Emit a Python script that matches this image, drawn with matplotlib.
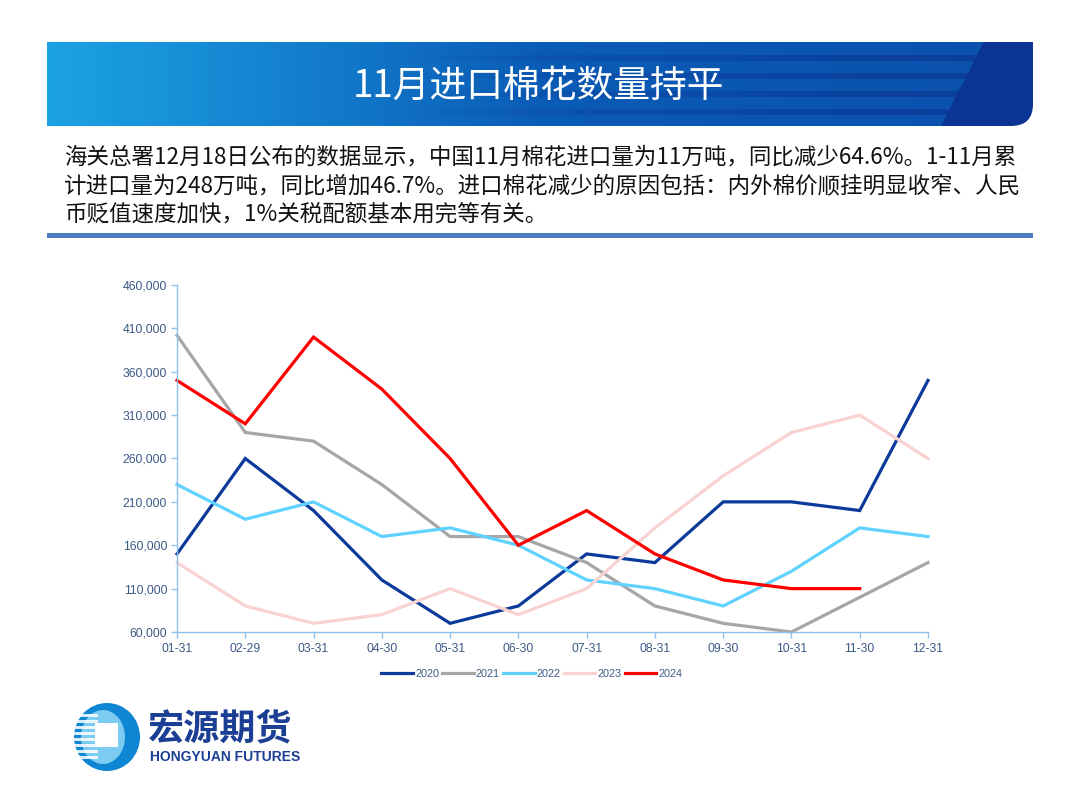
import numpy as np
import matplotlib
matplotlib.use("Agg")
import matplotlib.pyplot as plt
from matplotlib.patches import Ellipse, Rectangle, PathPatch
from matplotlib.path import Path

# ---------------- data ----------------
dates = ["01-31", "02-29", "03-31", "04-30", "05-31", "06-30",
         "07-31", "08-31", "09-30", "10-31", "11-30", "12-31"]
y2020 = [150000, 260000, 200000, 120000, 70000, 90000, 150000, 140000, 210000, 210000, 200000, 350000]
y2021 = [402000, 290000, 280000, 230000, 170000, 170000, 140000, 90000, 70000, 60000, 100000, 140000]
y2022 = [230000, 190000, 210000, 170000, 180000, 160000, 120000, 110000, 90000, 130000, 180000, 170000]
y2023 = [140000, 90000, 70000, 80000, 110000, 80000, 110000, 180000, 240000, 290000, 310000, 260000]
y2024 = [350000, 300000, 400000, 340000, 260000, 160000, 200000, 150000, 120000, 110000, 110000, None]
series_names = ["2020", "2021", "2022", "2023", "2024"]
series_vals = [y2020, y2021, y2022, y2023, y2024]
series_colors = ["#0b3a9a", "#a6a6a6", "#5fd2ff", "#f9d2d2", "#ff0000"]
yticks = list(range(60000, 460001, 50000))

title = "11月进口棉花数量持平"
para = ["海关总署12月18日公布的数据显示，中国11月棉花进口量为11万吨，同比减少64.6%。1-11月累",
        "计进口量为248万吨，同比增加46.7%。进口棉花减少的原因包括：内外棉价顺挂明显收窄、人民",
        "币贬值速度加快，1%关税配额基本用完等有关。"]

plt.rcParams['font.family'] = ['Noto Sans CJK SC', 'DejaVu Sans']

W, H = 1080, 810
fig = plt.figure(figsize=(10.8, 8.1), dpi=100)
bg = fig.add_axes([0, 0, 1, 1])
bg.set_xlim(0, W)
bg.set_ylim(H, 0)
bg.axis("off")

# ---------------- header band ----------------
x0, x1, yt, yb = 47, 1033, 42, 126
hw, hh = x1 - x0, yb - yt
xx, yy = np.meshgrid(np.arange(hw), np.arange(hh))
t = xx / hw
left = np.array([0x1c, 0xa3, 0xe4]) / 255
mid = np.array([0x0b, 0x5c, 0xb6]) / 255
right = np.array([0x0a, 0x50, 0xad]) / 255
img = np.zeros((hh, hw, 3))
for c in range(3):
    img[..., c] = np.where(t < 0.5, left[c] + (mid[c] - left[c]) * (t / 0.5),
                           mid[c] + (right[c] - mid[c]) * ((t - 0.5) / 0.5))
# stripes
stripe = np.zeros((hh, hw))
for sy in [13, 31, 49, 67]:
    stripe[(yy >= sy) & (yy < sy + 6)] = 1
alpha = np.clip((t - 0.35) / 0.5, 0, 1)
dark = np.array([0x0a, 0x3c, 0x98]) / 255
for c in range(3):
    img[..., c] = img[..., c] * (1 - stripe * alpha * 0.8) + dark[c] * stripe * alpha * 0.8
# navy slanted shape
edge = (983 - x0) - (yy / hh) * (983 - 940)
navy = np.array([0x0a, 0x35, 0x94]) / 255
mask = xx >= edge
for c in range(3):
    img[..., c] = np.where(mask, navy[c], img[..., c])
im = bg.imshow(img, extent=[x0, x1, yb, yt], aspect="auto", zorder=1, interpolation="bilinear")
r = 22
verts = [(x0, yt), (x1, yt), (x1, yb - r), (x1, yb), (x1 - r, yb), (x0, yb), (x0, yt)]
codes = [Path.MOVETO, Path.LINETO, Path.LINETO, Path.CURVE3, Path.CURVE3, Path.LINETO, Path.CLOSEPOLY]
clip = PathPatch(Path(verts, codes), transform=bg.transData, facecolor="none", edgecolor="none")
bg.add_patch(clip)
im.set_clip_path(clip)
bg.text(538, 86, title, color="white", fontsize=26.5, ha="center", va="center", zorder=3)

# paragraph
for i, line in enumerate(para):
    bg.text(64, 157 + i * 28.5, line, fontsize=16.2, color="#111111", ha="left", va="center", zorder=3)

# separator bar
bg.add_patch(Rectangle((47, 233), 986, 5, facecolor="#4a7dc2", edgecolor="none", zorder=2))

# ---------------- logo ----------------
bg.add_patch(Ellipse((107, 737), 66, 68, facecolor="#0e86d3", edgecolor="none", zorder=2))
bg.add_patch(Ellipse((103, 737), 44, 54, facecolor="#7ccbf0", edgecolor="none", zorder=2))
for sy in [714, 720, 726, 732, 738, 744, 750, 756]:
    bg.add_patch(Rectangle((74, sy), 24, 3, facecolor="white", edgecolor="none", alpha=0.85, zorder=3))
bg.add_patch(Rectangle((95, 723), 23, 24, facecolor="white", edgecolor="none", zorder=4))
bg.text(148, 729, "宏源期货", fontsize=26, fontweight="bold", color="#1b3f94", ha="left", va="center", zorder=3)
bg.text(150, 757, "HONGYUAN FUTURES", fontsize=10, fontweight="bold", color="#1b3f94",
        ha="left", va="center", family=["Liberation Sans", "DejaVu Sans"], zorder=3)

# ---------------- chart ----------------
axl, axr, axt, axb = 177, 928, 285, 632
ax = fig.add_axes([axl / W, 1 - axb / H, (axr - axl) / W, (axb - axt) / H])
ax.set_facecolor("none")
xs = np.arange(len(dates))
for name, vals, col in zip(series_names, series_vals, series_colors):
    v = np.array([np.nan if q is None else q for q in vals], dtype=float)
    ax.plot(xs, v, color=col, lw=2.3, label=name, solid_joinstyle="miter", clip_on=False)
ax.set_xlim(0, len(dates) - 1)
ax.set_ylim(yticks[0], yticks[-1])
ax.set_yticks(yticks)
ax.set_yticklabels([f"{v:,}" for v in yticks])
ax.set_xticks(xs)
ax.set_xticklabels(dates)
for s in ["top", "right"]:
    ax.spines[s].set_visible(False)
for s in ["left", "bottom"]:
    ax.spines[s].set_color("#8fc0ee")
    ax.spines[s].set_linewidth(1)
ax.tick_params(axis="both", colors="#8fc0ee", length=4, width=1, labelcolor="#3d5a85",
               labelsize=8.8)
for lab in ax.get_xticklabels() + ax.get_yticklabels():
    lab.set_family(["Liberation Sans", "DejaVu Sans"])
ax.tick_params(axis="x", pad=4)
ax.tick_params(axis="y", pad=3)

leg = fig.legend(loc="center", bbox_to_anchor=(532 / W, 1 - 674 / H), ncol=5, frameon=False,
                 handlelength=2.9, handletextpad=0.2, columnspacing=0.3,
                 prop={"family": ["Liberation Sans", "DejaVu Sans"], "size": 7.8})
for txt in leg.get_texts():
    txt.set_color("#3d5a85")

fig.savefig("out.png", dpi=100)
